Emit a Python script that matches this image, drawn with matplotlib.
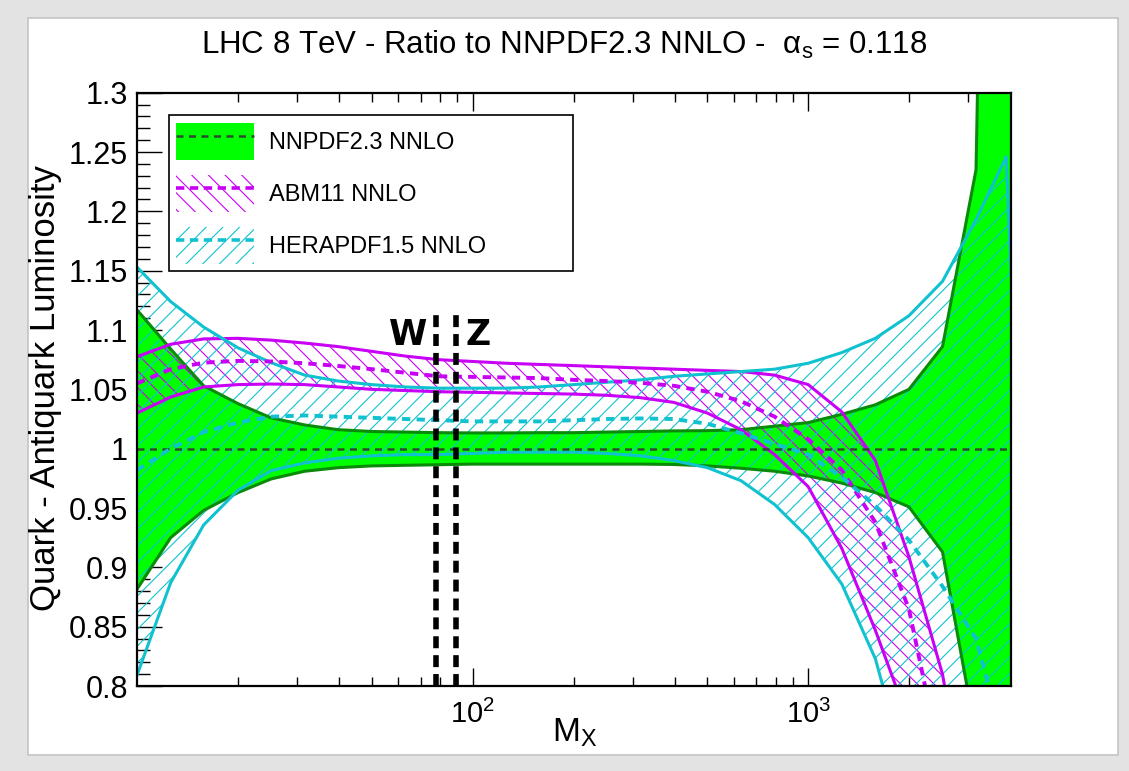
import numpy as np
import matplotlib
matplotlib.use('Agg')
import matplotlib.pyplot as plt
import matplotlib.patches as mpatches
from matplotlib.lines import Line2D
from matplotlib.legend_handler import HandlerTuple
from matplotlib.ticker import MultipleLocator, LogLocator, NullFormatter, FuncFormatter

plt.rcParams['font.family'] = ['Liberation Sans', 'DejaVu Sans']
plt.rcParams['mathtext.fontset'] = 'custom'
plt.rcParams['mathtext.rm'] = 'Liberation Sans'
plt.rcParams['mathtext.it'] = 'Liberation Sans:italic'
plt.rcParams['mathtext.default'] = 'regular'
plt.rcParams['hatch.linewidth'] = 0.8
plt.rcParams['lines.scale_dashes'] = False

# invariant mass grid (GeV)
mass = [10, 12.6, 15.8, 20, 25.1, 31.6, 39.8, 50.1, 63.1, 79.4, 100, 126, 158, 200,
        251, 316, 398, 501, 631, 794, 1000, 1259, 1585, 1995, 2512, 3162, 3890, 4020]

# NNPDF2.3 NNLO (reference, ratio = 1)
nnpdf_hi = [1.117, 1.084, 1.053, 1.038, 1.026, 1.020, 1.016, 1.0145, 1.014, 1.0135,
            1.0133, 1.0133, 1.0135, 1.0135, 1.014, 1.0145, 1.015, 1.0152, 1.016, 1.019,
            1.022, 1.029, 1.037, 1.050, 1.086, 1.235, 2.6, 2.8]
nnpdf_lo = [0.8815, 0.925, 0.948, 0.963, 0.9745, 0.981, 0.984, 0.9855, 0.986, 0.9865,
            0.987, 0.987, 0.987, 0.987, 0.987, 0.987, 0.9867, 0.9855, 0.9835, 0.981,
            0.977, 0.971, 0.963, 0.951, 0.913, 0.758, 0.5, 0.45]
nnpdf_cv = [1.0] * len(mass)

# ABM11 NNLO
abm_hi = [1.0775, 1.088, 1.0925, 1.093, 1.0915, 1.089, 1.086, 1.082, 1.078, 1.075,
          1.0735, 1.072, 1.071, 1.070, 1.069, 1.068, 1.067, 1.066, 1.065, 1.062,
          1.054, 1.031, 0.990, 0.909, 0.81, 0.65, 0.5, 0.48]
abm_lo = [1.030, 1.0435, 1.052, 1.054, 1.0545, 1.054, 1.052, 1.050, 1.049, 1.048,
          1.0475, 1.047, 1.0465, 1.046, 1.045, 1.043, 1.039, 1.030, 1.016, 0.995,
          0.968, 0.916, 0.847, 0.77, 0.65, 0.5, 0.4, 0.38]
abm_cv = [1.055, 1.067, 1.0725, 1.074, 1.0735, 1.072, 1.0697, 1.067, 1.064, 1.061,
          1.0605, 1.060, 1.0595, 1.058, 1.057, 1.0555, 1.053, 1.048, 1.040, 1.027,
          1.008, 0.982, 0.938, 0.865, 0.73, 0.58, 0.45, 0.43]

# HERAPDF1.5 NNLO
hera_hi = [1.153, 1.124, 1.1025, 1.085, 1.0725, 1.062, 1.057, 1.054, 1.052, 1.051,
           1.051, 1.051, 1.052, 1.054, 1.056, 1.058, 1.061, 1.063, 1.065, 1.067,
           1.072, 1.081, 1.093, 1.112, 1.141, 1.193, 1.246, 1.146]
hera_lo = [0.809, 0.887, 0.9357, 0.965, 0.9815, 0.988, 0.992, 0.994, 0.995, 0.995,
           0.996, 0.997, 0.997, 0.997, 0.996, 0.994, 0.990, 0.984, 0.973, 0.953,
           0.925, 0.886, 0.823, 0.72, 0.55, 0.3, 0.1, 0.05]
hera_cv = [0.982, 1.000, 1.014, 1.022, 1.027, 1.028, 1.027, 1.026, 1.025, 1.024,
           1.023, 1.023, 1.023, 1.024, 1.025, 1.0255, 1.025, 1.021, 1.013, 1.004,
           0.995, 0.976, 0.952, 0.923, 0.884, 0.840, 0.745, 0.73]

labels = ['NNPDF2.3 NNLO', 'ABM11 NNLO', 'HERAPDF1.5 NNLO']

# W and Z boson mass markers
wz_mass = [78, 89]
wz_names = ['W', 'Z']
wz_label_x = [64.1, 103.5]

GREEN = '#00ff00'
DKGREEN = '#0a8a0a'
NNDASH = '#2e4a2e'
MAG = '#c800f5'
CYAN = '#10c2d0'

fig = plt.figure(figsize=(11.29, 7.71), dpi=100, facecolor='#e3e3e3')
panel = mpatches.Rectangle((28 / 1129, 1 - 755 / 771), 1090 / 1129, 737 / 771,
                           transform=fig.transFigure, facecolor='white',
                           edgecolor='#c4c4c4', lw=1.2, zorder=0)
fig.add_artist(panel)

ax = fig.add_axes([0.1213, 0.1102, 0.7742, 0.7696])
ax.set_xscale('log')
ax.set_xlim(10, 4020)
ax.set_ylim(0.8, 1.3)
ax.set_axisbelow(True)

# bands
ax.fill_between(mass, nnpdf_lo, nnpdf_hi, facecolor=GREEN, edgecolor='none', lw=0, zorder=1)
ax.fill_between(mass, abm_lo, abm_hi, facecolor='none', edgecolor=MAG, hatch='\\\\', lw=0, zorder=2)
ax.fill_between(mass, hera_lo, hera_hi, facecolor='none', edgecolor=CYAN, hatch='//', lw=0, zorder=3)

# band edges
for ys in (nnpdf_hi, nnpdf_lo):
    ax.plot(mass, ys, color=DKGREEN, lw=2.2, zorder=4)
for ys in (abm_hi, abm_lo):
    ax.plot(mass, ys, color=MAG, lw=2.2, zorder=4)
for ys in (hera_hi, hera_lo):
    ax.plot(mass, ys, color=CYAN, lw=2.2, zorder=4)

# central values
ax.plot(mass, nnpdf_cv, color=NNDASH, lw=1.8, dashes=(5, 4), zorder=5)
ax.plot(mass, abm_cv, color=MAG, lw=2.8, dashes=(6, 4.5), zorder=5)
ax.plot(mass, hera_cv, color=CYAN, lw=2.8, dashes=(6, 4.5), zorder=5)

# W / Z lines
for m, name, lx in zip(wz_mass, wz_names, wz_label_x):
    ax.plot([m, m], [0.8, 1.114], color='black', lw=4, dashes=(8.6, 5), zorder=6)
    ax.text(lx, 1.0958, name, fontsize=25, fontweight='bold', family='DejaVu Sans',
            ha='center', va='center', zorder=6)

# axes styling
for sp in ax.spines.values():
    sp.set_linewidth(1.6)
    sp.set_zorder(8)
ax.set_xticks([100, 1000], labels=['$10^{2}$', '$10^{3}$'])
ax.xaxis.set_minor_locator(LogLocator(base=10, subs=np.arange(2, 10)))
ax.xaxis.set_minor_formatter(NullFormatter())
ax.yaxis.set_major_locator(MultipleLocator(0.05))
ax.yaxis.set_minor_locator(MultipleLocator(0.01))
ax.yaxis.set_major_formatter(FuncFormatter(lambda v, p: f'{v:g}'))
ax.tick_params(axis='y', which='major', direction='in', length=18, width=1, labelsize=22, pad=6.5)
ax.tick_params(axis='y', which='minor', direction='in', length=9, width=1)
ax.tick_params(axis='x', which='major', direction='in', length=12.7, width=1, labelsize=21,
               pad=10, top=True)
ax.tick_params(axis='x', which='minor', direction='in', length=6.5, width=1, top=True)

# legend
h_nn = (mpatches.Patch(facecolor=GREEN, edgecolor='none', lw=0),
        Line2D([], [], color=NNDASH, lw=1.8, dashes=(5, 4)))
h_abm = (mpatches.Patch(facecolor='none', edgecolor=MAG, hatch='\\\\', lw=0),
         Line2D([], [], color=MAG, lw=2.6, dashes=(6, 4)))
h_hera = (mpatches.Patch(facecolor='none', edgecolor=CYAN, hatch='//', lw=0),
          Line2D([], [], color=CYAN, lw=2.6, dashes=(6, 4)))
leg = ax.legend([h_nn, h_abm, h_hera], labels,
                handler_map={tuple: HandlerTuple(ndivide=1, pad=0)},
                loc='upper left', bbox_to_anchor=(0.0366, 0.6995, 0.4622, 0.2625),
                mode='expand', borderaxespad=0, fontsize=17, handlelength=3.3,
                handleheight=2.03, labelspacing=0.64, borderpad=0.32, handletextpad=0.6,
                fancybox=False, framealpha=1, edgecolor='black')
leg.get_frame().set_linewidth(1.2)
leg.set_zorder(9)

# texts
fig.text(0.5, 0.9416, r'LHC 8 TeV - Ratio to NNPDF2.3 NNLO -  $\alpha_s$ = 0.118',
         ha='center', va='center', fontsize=22.5)
fig.text(0.0407, 0.4968, 'Quark - Antiquark Luminosity', rotation=90,
         ha='center', va='center', fontsize=25)
fig.text(552 / 1129, 29 / 771, 'M$_X$', ha='left', va='baseline', fontsize=24)

fig.savefig('out.png', dpi=100, facecolor=fig.get_facecolor())
